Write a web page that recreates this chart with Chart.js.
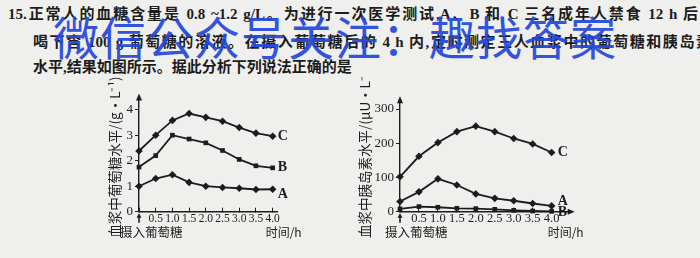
<!DOCTYPE html>
<html>
<head>
<meta charset="utf-8">
<script src="https://cdn.jsdelivr.net/npm/chart.js"></script>
<style>
body{margin:0;width:700px;height:258px;overflow:hidden;background:#efefed;position:relative;color:#1c1c1c}
.line{position:absolute;font-family:"Liberation Serif","Noto Sans CJK SC",serif;font-size:15px;line-height:20px;white-space:nowrap;font-weight:bold}
.mark{position:absolute;left:53px;top:12px;font-family:"Noto Sans CJK SC",sans-serif;font-size:46px;line-height:46px;letter-spacing:1px;color:#2348dc;opacity:0.93;white-space:nowrap}
canvas{position:absolute}
</style>
</head>
<body>
<div class="line" style="left:8px;top:4px;width:690px;text-align:justify;text-align-last:justify">15.正常人的血糖含量是 0.8 ~1.2 g/L。为进行一次医学测试,A、B 和 C 三名成年人禁食 12 h 后</div>
<div class="line" style="left:33px;top:32px;width:678px;text-align:justify;text-align-last:justify">喝下含 100 g 葡萄糖的溶液。在摄入葡萄糖后的 4 h 内,定时测定三人血浆中的葡萄糖和胰岛素</div>
<div class="line" style="left:33px;top:57px">水平,结果如图所示。据此分析下列说法正确的是</div>

<canvas id="glucoseChart" width="210" height="183" style="left:95px;top:75px"></canvas>
<canvas id="insulinChart" width="270" height="183" style="left:330px;top:75px"></canvas>

<div class="mark">微信公众号关注：趣找答案</div>

<script>
// time points (h)
var times = [0, 0.5, 1.0, 1.5, 2.0, 2.5, 3.0, 3.5, 4.0]
var seriesNames = ['A', 'B', 'C']

// plasma glucose, g/L
var glucoseA = [1.0, 1.3, 1.45, 1.15, 1.0, 0.95, 0.92, 0.87, 0.88]
var glucoseB = [1.75, 2.2, 3.0, 2.85, 2.7, 2.4, 2.05, 1.8, 1.72]
var glucoseC = [2.38, 3.0, 3.58, 3.85, 3.7, 3.55, 3.3, 3.08, 2.96]

// plasma insulin, μU/L
var insulinA = [30, 58, 96, 78, 52, 39, 32, 24, 17]
var insulinB = [8, 15, 13, 10, 9, 7, 4, 2, 1]
var insulinC = [102, 162, 202, 234, 250, 234, 214, 198, 173]

var xTicks = [0, 0.5, 1.0, 1.5, 2.0, 2.5, 3.0, 3.5, 4.0]
var glucoseTicks = [0, 1, 2, 3, 4]
var insulinTicks = [0, 50, 100, 150, 200, 250, 300]

var ink = '#1c1c1c'

function points(values){
	return values.map((v, i) => ({x: times[i], y: v}))
}

function makeDataset(name, values, shape){
	return {
		label: name,
		data: points(values),
		borderColor: ink,
		backgroundColor: ink,
		borderWidth: 1.8,
		pointStyle: shape,
		pointRadius: shape == 'rect' ? 3.3 : 3.8,
		pointBorderWidth: 0,
		tension: 0,
		clip: false
	}
}

// arrows, curve letters, y title and the text under the time axis
const extras = {
	id: 'extras',
	afterDraw: (chart, args, opts) => {
		const ctx = chart.ctx
		const xs = chart.scales.x
		const area = chart.chartArea
		const ax = xs.getPixelForValue(0)
		ctx.save()
		ctx.fillStyle = ink
		ctx.strokeStyle = ink
		ctx.beginPath()
		ctx.moveTo(ax, area.top - 6)
		ctx.lineTo(ax - 3, area.top + 1)
		ctx.lineTo(ax + 3, area.top + 1)
		ctx.fill()
		if (opts.xArrow) {
			ctx.beginPath()
			ctx.moveTo(area.right + 6, area.bottom)
			ctx.lineTo(area.right - 1, area.bottom - 3)
			ctx.lineTo(area.right - 1, area.bottom + 3)
			ctx.fill()
		}
		// intake arrow under the origin
		ctx.lineWidth = 1.6
		ctx.beginPath()
		ctx.moveTo(ax, xs.top + 11)
		ctx.lineTo(ax, xs.top + 5)
		ctx.stroke()
		ctx.beginPath()
		ctx.moveTo(ax, xs.top + 1.5)
		ctx.lineTo(ax - 2.5, xs.top + 6)
		ctx.lineTo(ax + 2.5, xs.top + 6)
		ctx.fill()

		ctx.font = 'bold 14px "Liberation Serif"'
		ctx.textBaseline = 'middle'
		ctx.textAlign = 'left'
		chart.data.datasets.forEach((ds, i) => {
			const meta = chart.getDatasetMeta(i)
			const pt = meta.data[meta.data.length - 1]
			ctx.fillText(ds.label, pt.x + opts.labelDx, pt.y + opts.labelDy[i])
		})
		ctx.font = '12.5px "Noto Sans CJK SC"'
		ctx.fillText('摄入葡萄糖', ax + opts.intakeDx, xs.top + 21)
		ctx.font = '12px "Noto Sans CJK SC"'
		ctx.fillText('时间/h', xs.getPixelForValue(4) + opts.timeDx, xs.top + 21)

		// rotated y title, allowed to run past the plot height
		ctx.translate(ax - opts.titleDx, (area.top + area.bottom) / 2 + opts.titleDy)
		ctx.rotate(-Math.PI / 2)
		ctx.textAlign = 'center'
		ctx.font = '13.5px "Noto Sans CJK SC"'
		ctx.fillText(opts.title, 0, 0)
		ctx.restore()
	}
}

function makeChart(id, sets, yMax, yTicks, opt){
	const config = {
		type: 'line',
		data: {datasets: sets},
		options: {
			responsive: false,
			animation: false,
			layout: {padding: {top: opt.padTop, right: opt.padRight, left: 0, bottom: 0}},
			plugins: {
				legend: {display: false},
				tooltip: {enabled: false},
				extras: opt.extras
			},
			scales: {
				x: {
					type: 'linear',
					min: 0,
					max: opt.xMax,
					afterBuildTicks: axis => { axis.ticks = xTicks.map(v => ({value: v})) },
					afterFit: axis => { axis.height = 46.3 },
					grid: {drawOnChartArea: false, drawTicks: true, tickLength: -4, color: ink},
					border: {display: true, color: ink, width: 1.4},
					ticks: {
						autoSkip: false,
						maxRotation: 0,
						padding: 4,
						color: ink,
						font: {family: '"Liberation Serif"', size: opt.xFont},
						callback: v => v == 0 ? '' : v.toFixed(1)
					}
				},
				y: {
					min: 0,
					max: yMax,
					afterBuildTicks: axis => { axis.ticks = yTicks.map(v => ({value: v})) },
					afterFit: axis => { axis.width = opt.yWidth },
					grid: {drawOnChartArea: false, drawTicks: true, tickLength: 4, color: ink},
					border: {display: true, color: ink, width: 1.4},
					ticks: {
						padding: 2,
						color: ink,
						font: {family: '"Liberation Serif"', size: 13}
					}
				}
			}
		},
		plugins: [extras]
	}
	return new Chart(document.getElementById(id), config)
}

makeChart('glucoseChart', [
	makeDataset(seriesNames[0], glucoseA, 'rectRot'),
	makeDataset(seriesNames[1], glucoseB, 'rect'),
	makeDataset(seriesNames[2], glucoseC, 'rectRot')
], 4.4, glucoseTicks, {
	padTop: 24.5, padRight: 28, xMax: 4.13, yWidth: 44, xFont: 11.5,
	extras: {xArrow: false, labelDx: 5, labelDy: [5, 0, 0], intakeDx: -19, timeDx: -7,
		title: '血浆中葡萄糖水平/(g·L⁻¹)', titleDx: 24, titleDy: 1.5}
})

makeChart('insulinChart', [
	makeDataset(seriesNames[0], insulinA, 'rectRot'),
	makeDataset(seriesNames[1], insulinB, 'rect'),
	makeDataset(seriesNames[2], insulinC, 'rectRot')
], 320, insulinTicks, {
	padTop: 27.2, padRight: 31.3, xMax: 4.45, yWidth: 70, xFont: 12.5,
	extras: {xArrow: true, labelDx: 6, labelDy: [-4, 1, 0], intakeDx: -15, timeDx: -4,
		title: '血浆中胰岛素水平/(μU·L⁻¹)', titleDx: 35, titleDy: -5}
})
</script>
</body>
</html>
